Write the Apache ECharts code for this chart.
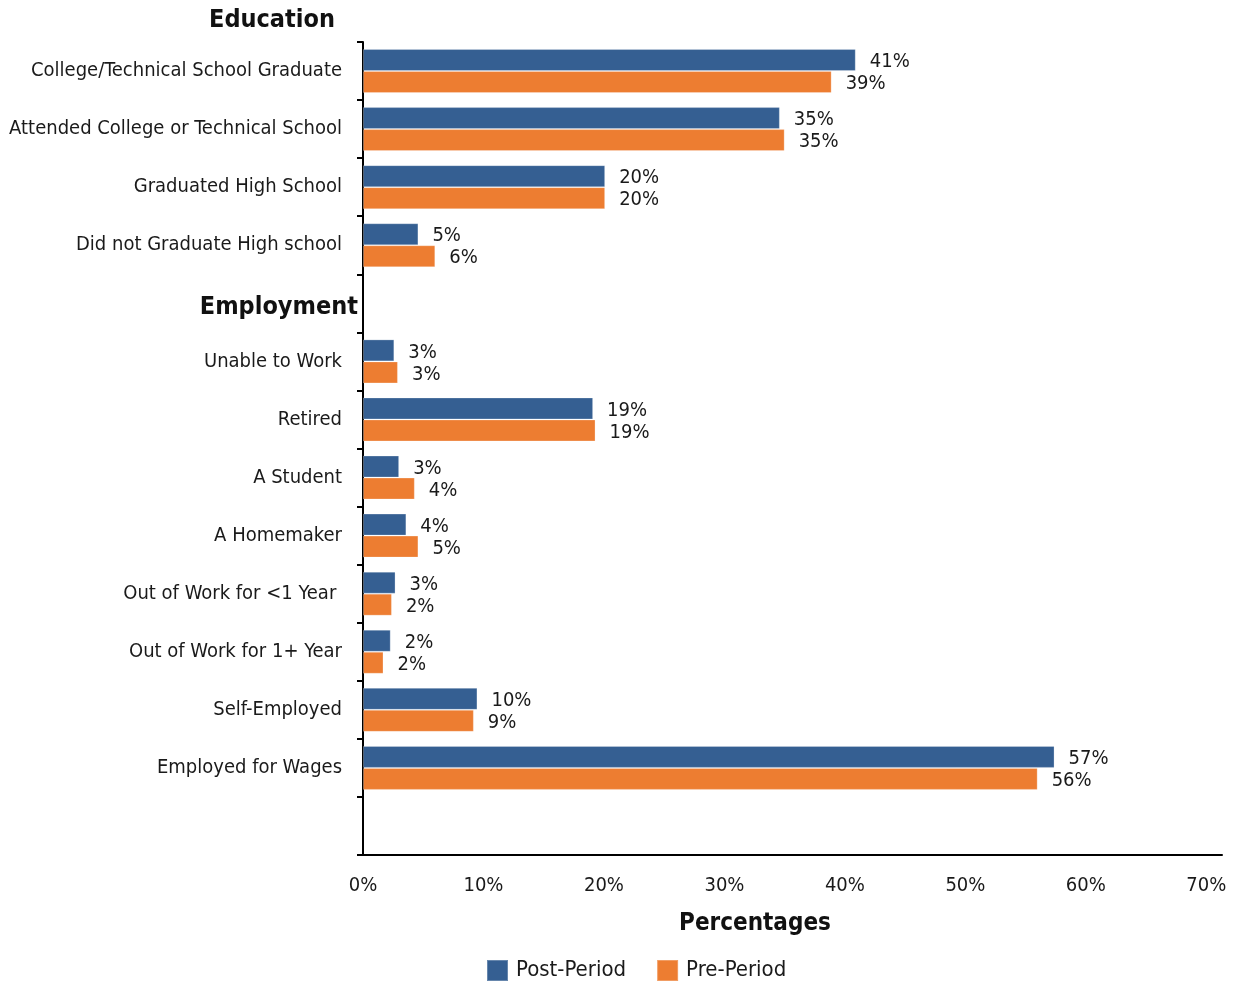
<!DOCTYPE html>
<html>
<head>
<meta charset="utf-8">
<script src="https://cdn.jsdelivr.net/npm/echarts@6/dist/echarts.min.js"></script>
<style>
  html, body { margin: 0; padding: 0; background: #fff; }
  #chart-container { width: 1234px; height: 983px; }
</style>
</head>
<body>
<div id="chart-container"></div>
<script>
var categories = [
  "College/Technical School Graduate",
  "Attended College or Technical School",
  "Graduated High School",
  "Did not Graduate High school",
  "Employment",
  "Unable to Work",
  "Retired",
  "A Student",
  "A Homemaker",
  "Out of Work for <1 Year ",
  "Out of Work for 1+ Year",
  "Self-Employed",
  "Employed for Wages",
  ""
];
var postPeriod = [40.9, 34.6, 20.1, 4.6, null, 2.6, 19.1, 3.0, 3.6, 2.7, 2.3, 9.5, 57.4, null];
var prePeriod = [38.9, 35.0, 20.1, 6.0, null, 2.9, 19.3, 4.3, 4.6, 2.4, 1.7, 9.2, 56.0, null];
var xTicks = [0, 10, 20, 30, 40, 50, 60, 70];

var FONT = "'Liberation Sans Narrow', 'Arial Narrow', 'DejaVu Sans Condensed', sans-serif";
var TEXT = "#1a1a1a";

var dom = document.getElementById("chart-container");
var myChart = echarts.init(dom, null, { renderer: "canvas" });

var labelOpt = {
  show: true,
  position: "right",
  distance: 14,
  offset: [0, 2],
  fontFamily: FONT,
  fontSize: 20,
  color: TEXT,
  formatter: function (p) {
    return Math.round(p.value) + "%";
  }
};

var option = {
  animation: false,
  textStyle: { fontFamily: FONT },
  grid: {
    left: 363,
    right: 12,
    top: 42,
    bottom: 128,
    containLabel: false,
    outerBoundsMode: "none"
  },
  legend: {
    left: 481,
    top: 954,
    icon: "rect",
    itemWidth: 21,
    itemHeight: 21,
    itemGap: 30,
    textStyle: { fontFamily: FONT, fontSize: 22, color: TEXT, padding: [0, 0, 0, 3] },
    data: ["Post-Period", "Pre-Period"]
  },
  xAxis: {
    type: "value",
    min: 0,
    max: 71.3,
    interval: 10,
    axisLine: { show: true, lineStyle: { color: "#000", width: 2 } },
    axisTick: { show: false },
    splitLine: { show: false },
    axisLabel: {
      showMaxLabel: false,
      margin: 21,
      fontFamily: FONT,
      fontSize: 20,
      color: TEXT,
      formatter: function (v) {
        return xTicks.indexOf(v) >= 0 ? v + "%" : "";
      }
    }
  },
  yAxis: {
    type: "category",
    inverse: true,
    data: categories,
    axisLine: { show: true, lineStyle: { color: "#000", width: 2 } },
    axisTick: { show: true, length: 6, lineStyle: { color: "#000", width: 2 } },
    axisLabel: {
      margin: 21,
      fontFamily: FONT,
      fontSize: 20,
      color: TEXT,
      formatter: function (v) {
        return v === "Employment" ? "" : v;
      }
    }
  },
  graphic: [
    {
      type: "text",
      x: 272,
      y: 20,
      style: {
        text: "Education",
        font: "bold 25px " + FONT,
        fill: "#111",
        align: "center",
        verticalAlign: "middle"
      }
    },
    {
      type: "text",
      x: 358,
      y: 307,
      style: {
        text: "Employment",
        font: "bold 25px " + FONT,
        fill: "#111",
        align: "right",
        verticalAlign: "middle"
      }
    },
    {
      type: "text",
      x: 755,
      y: 924,
      style: {
        text: "Percentages",
        font: "bold 24px " + FONT,
        fill: "#111",
        align: "center",
        verticalAlign: "middle"
      }
    }
  ],
  series: [
    {
      name: "Post-Period",
      type: "bar",
      data: postPeriod,
      barWidth: 22,
      barGap: "0%",
      itemStyle: { color: "#355f92", borderColor: "rgba(255,255,255,0.25)", borderWidth: 1 },
      label: labelOpt
    },
    {
      name: "Pre-Period",
      type: "bar",
      data: prePeriod,
      barWidth: 22,
      barGap: "0%",
      itemStyle: { color: "#ed7d31", borderColor: "rgba(255,255,255,0.25)", borderWidth: 1 },
      label: labelOpt
    }
  ]
};

myChart.setOption(option);
window.addEventListener("resize", myChart.resize);
</script>
</body>
</html>
